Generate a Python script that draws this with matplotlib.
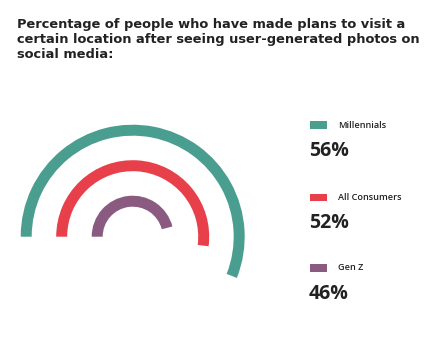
import numpy as np
import matplotlib
matplotlib.use("Agg")
import matplotlib.pyplot as plt
from matplotlib.patches import Wedge, Rectangle

# data
groups = ["Millennials", "All Consumers", "Gen Z"]
values = [56, 52, 46]
colors = ["#4A9E8F", "#E8404A", "#8A5A80"]

title = ("Percentage of people who have made plans to visit a\n"
         "certain location after seeing user-generated photos on\n"
         "social media:")

W, H = 443, 342
fig = plt.figure(figsize=(W / 100, H / 100), dpi=100)
ax = fig.add_axes([0, 0, 1, 1])
ax.set_xlim(0, W)
ax.set_ylim(0, H)
ax.axis("off")

# rings, drawn clockwise from 9 o'clock
cx, cy = 132.7, H - 236.7
outer_r = [112, 76.5, 41]
ring_w = 11
for v, c, r in zip(values, colors, outer_r):
    span = v / 100 * 360
    ax.add_patch(Wedge((cx, cy), r, 180 - span, 180, width=ring_w,
                       facecolor=c, edgecolor="none"))

# title
fig.text(17 / W, 1 - 18 / H, title, ha="left", va="top", fontsize=9.4,
         fontweight="bold", color="#222222", linespacing=1.2,
         family="DejaVu Sans")

# legend with big numbers
leg_y = [125, 197.5, 268]
for g, v, c, y in zip(groups, values, colors, leg_y):
    ax.add_patch(Rectangle((310, H - y - 3.8), 17.5, 7.6, facecolor=c,
                           edgecolor="none"))
    ax.text(338, H - y, g, ha="left", va="center", fontsize=6.6,
            fontweight="semibold", color="#222222", family="Open Sans")
    ax.text(309, H - y - 26, f"{v}%", ha="left", va="center", fontsize=14,
            fontweight="bold", color="#222222", family="Open Sans")

fig.savefig("out.png", dpi=100)
